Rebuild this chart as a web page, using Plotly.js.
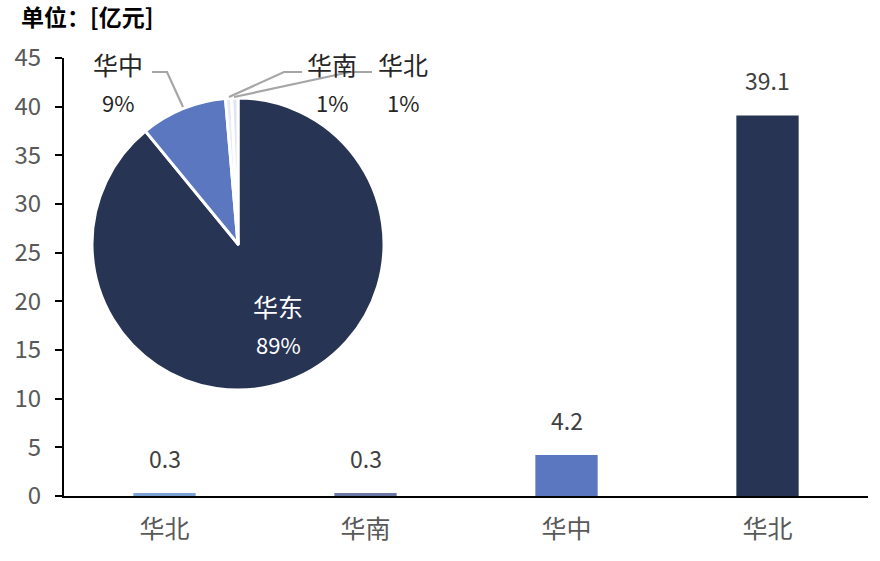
<!DOCTYPE html>
<html>
<head>
<meta charset="utf-8">
<script src="https://cdn.plot.ly/plotly-3.0.1.min.js"></script>
<style>html,body{margin:0;padding:0;background:#fff;}#chart{width:880px;height:561px;}</style>
</head>
<body>
<div id="chart"></div>
<script>
// ---- data ----
var barCategories = ['华北', '华南', '华中', '华北'];
var barValues = [0.3, 0.3, 4.2, 39.1];
var barLabels = ['0.3', '0.3', '4.2', '39.1'];
var barColors = ['#7ba3d6', '#6b78a6', '#5a77c0', '#283454'];

var pieLabels = ['华东', '华中', '华南', '华北'];
var pieValues = [39.1, 4.2, 0.3, 0.3];
var pieText = ['89%', '9%', '1%', '1%'];
var pieColors = ['#283454', '#5a77c0', '#e6ebf4', '#dfe5f1'];

var yTicks = [0, 5, 10, 15, 20, 25, 30, 35, 40, 45];

// ---- layout geometry ----
var W = 880, H = 561;
var M = {l: 64, r: 12, t: 58, b: 65};
function px(x) { return (x - M.l) / (W - M.l - M.r); }
function py(y) { return (H - M.b - y) / (H - M.t - M.b); }

var FONT = '"Noto Sans CJK SC", "Noto Sans", sans-serif';
var xIdx = barValues.map(function (_, i) { return i; });

var bar = {
  type: 'bar',
  x: xIdx,
  y: barValues,
  width: 0.31,
  marker: {color: barColors},
  hoverinfo: 'skip',
  showlegend: false
};

var pie = {
  type: 'pie',
  labels: pieLabels,
  values: pieValues,
  text: pieText,
  sort: false,
  direction: 'clockwise',
  rotation: 0,
  marker: {colors: pieColors, line: {color: '#ffffff', width: 3}},
  textinfo: 'none',
  hoverinfo: 'skip',
  domain: {x: [px(92), px(384)], y: [py(390), py(98)]},
  showlegend: false
};

var annotations = [];
// bar value labels
barValues.forEach(function (v, i) {
  annotations.push({
    x: i, y: v, xref: 'x', yref: 'y', text: barLabels[i], showarrow: false,
    xanchor: 'center', yanchor: 'middle',
    yshift: 35, font: {family: FONT, size: 23, color: '#404040'}
  });
});
// pie labels
var pieLabelPos = [
  {x: 278, y: 306, c: '#ffffff'},
  {x: 118, y: 64, c: '#262626'},
  {x: 332, y: 64, c: '#262626'},
  {x: 403, y: 64, c: '#262626'}
];
pieLabels.forEach(function (lab, i) {
  var p = pieLabelPos[i];
  annotations.push({x: px(p.x), y: py(p.y), xref: 'paper', yref: 'paper', text: lab,
    xanchor: 'center', yanchor: 'middle',
    showarrow: false, font: {family: FONT, size: 25, color: p.c}});
  annotations.push({x: px(p.x), y: py(p.y + 38), xref: 'paper', yref: 'paper', text: pieText[i],
    xanchor: 'center', yanchor: 'middle',
    showarrow: false, font: {family: FONT, size: 22, color: p.c}});
});
// title
annotations.push({x: px(19), y: py(16), xref: 'paper', yref: 'paper', text: '<b>单位：[亿元]</b>',
  showarrow: false, xanchor: 'left', yanchor: 'middle', font: {family: FONT, size: 23, color: '#000000'}});

function leader(pts) {
  var d = 'M ' + pts.map(function (p) { return px(p[0]) + ' ' + py(p[1]); }).join(' L ');
  return {type: 'path', xref: 'paper', yref: 'paper', path: d,
    line: {color: '#a6a6a6', width: 2.2}};
}
var shapes = [
  leader([[183, 107], [167, 72], [152, 72]]),
  leader([[229, 97], [284, 72], [302, 72]]),
  leader([[234, 97], [350, 72], [372, 72]])
];

var layout = {
  width: W, height: H,
  margin: M,
  paper_bgcolor: '#ffffff', plot_bgcolor: '#ffffff',
  font: {family: FONT},
  xaxis: {
    range: [-0.5, 3.5],
    tickvals: xIdx, ticktext: barCategories,
    showgrid: false, zeroline: false,
    showline: true, linecolor: '#000000', linewidth: 2,
    ticks: '', ticklabelstandoff: 10,
    tickfont: {family: FONT, size: 25, color: '#595959'}
  },
  yaxis: {
    range: [0, 45],
    tickvals: yTicks,
    showgrid: false, zeroline: false,
    showline: true, linecolor: '#000000', linewidth: 2,
    ticks: 'outside', ticklen: 7, tickwidth: 2, tickcolor: '#000000',
    ticklabelstandoff: 9,
    tickfont: {family: FONT, size: 24, color: '#595959'}
  },
  annotations: annotations,
  shapes: shapes
};

Plotly.newPlot('chart', [bar, pie], layout, {displayModeBar: false, staticPlot: true});
</script>
</body>
</html>
